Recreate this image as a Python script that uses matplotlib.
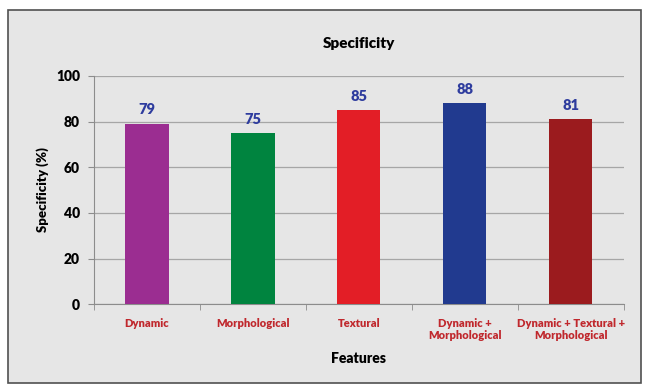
import matplotlib
matplotlib.use("Agg")
import matplotlib.pyplot as plt
from matplotlib.patches import Rectangle

features = ["Dynamic", "Morphological", "Textural",
            "Dynamic +\nMorphological", "Dynamic + Textural +\nMorphological"]
specificity = [79, 75, 85, 88, 81]
bar_colors = ["#9B2D91", "#00843F", "#E31E26", "#213A8F", "#9B1B1E"]

plt.rcParams["font.family"] = ["Lato", "DejaVu Sans"]
plt.rcParams["font.weight"] = "bold"

fig = plt.figure(figsize=(6.47, 3.87), dpi=100)
fig.patch.set_facecolor("white")

# grey chart panel with a dark frame, kept behind the axes
panel = Rectangle((0.012, 0.010), 0.979, 0.964, transform=fig.transFigure,
                  facecolor="#E6E6E6", edgecolor="#505050", linewidth=1.2, zorder=-1)
fig.add_artist(panel)

ax = fig.add_axes([0.145, 0.214, 0.819, 0.590])
ax.set_facecolor("#E6E6E6")

x = range(len(features))
bars = ax.bar(x, specificity, width=0.41, color=bar_colors, zorder=3)
for b, v in zip(bars, specificity):
    ax.text(b.get_x() + b.get_width() / 2, v + 3.2, str(v), ha="center", va="bottom",
            color="#2E3C9E", fontsize=10.5, fontweight="heavy")

ax.set_xlim(-0.5, len(features) - 0.5)
ax.set_ylim(0, 100)
ax.set_yticks(range(0, 101, 20))
ax.yaxis.grid(True, color="#A6A6A6", linewidth=0.9, zorder=0)
ax.set_axisbelow(True)

ax.set_xticks(list(x))
ax.set_xticklabels(features, color="#C0282D", fontsize=8, fontweight="heavy",
                   linespacing=1.1)
ax.set_xticks([i + 0.5 for i in range(-1, len(features))], minor=True)
ax.tick_params(axis="x", which="major", length=0, pad=10)
ax.tick_params(axis="x", which="minor", length=4, color="#8C8C8C", direction="out")
ax.tick_params(axis="y", length=4, color="#8C8C8C", labelsize=10, pad=6)
for t in ax.get_yticklabels():
    t.set_fontweight("heavy")

for side in ["top", "right"]:
    ax.spines[side].set_visible(False)
for side in ["left", "bottom"]:
    ax.spines[side].set_color("#8C8C8C")

ax.set_title("Specificity", fontsize=11, fontweight="heavy", pad=20)
ax.set_xlabel("Features", fontsize=10, fontweight="heavy", labelpad=8)
ax.set_ylabel("Specificity (%)", fontsize=9.5, fontweight="heavy", labelpad=5)

fig.savefig("out.png", dpi=100)
